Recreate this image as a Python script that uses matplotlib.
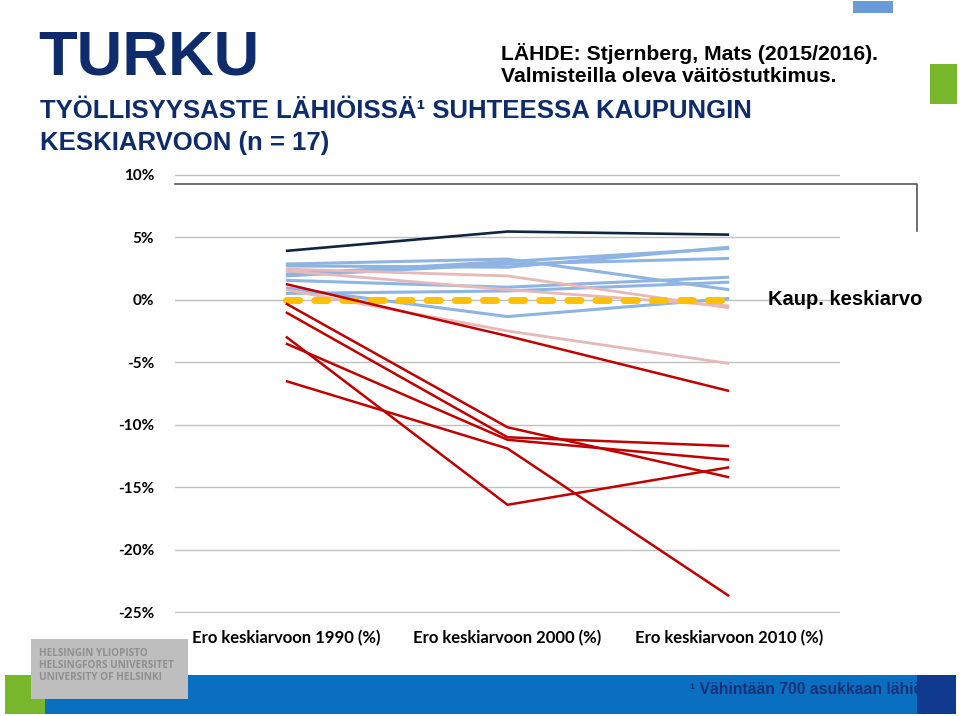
import matplotlib
matplotlib.use("Agg")
import matplotlib.pyplot as plt
from matplotlib.patches import Rectangle
from matplotlib.lines import Line2D

W, H = 960, 716

categories = ["Ero keskiarvoon 1990 (%)", "Ero keskiarvoon 2000 (%)", "Ero keskiarvoon 2010 (%)"]
yticks = [10, 5, 0, -5, -10, -15, -20, -25]

# erotus kaupungin keskiarvoon, %-yksikköä
black_line = [3.9, 5.45, 5.2]
blue_lines = [
    [2.85, 3.25, 0.8],
    [2.7, 2.6, 4.2],
    [2.05, 3.05, 4.1],
    [1.9, 2.85, 3.3],
    [1.55, 1.0, 1.8],
    [0.5, 0.7, 1.4],
    [0.95, -1.35, 0.1],
]
pink_lines = [
    [2.45, 1.9, -0.65],
    [2.3, 0.8, -0.5],
    [0.8, -2.5, -5.1],
]
red_lines = [
    [1.25, -2.9, -7.3],
    [-0.3, -10.2, -14.2],
    [-1.0, -11.0, -11.7],
    [-3.5, -11.2, -12.8],
    [-2.95, -16.4, -13.4],
    [-6.5, -11.9, -23.7],
]
mean_line = [0, 0, 0]


def fx(px):
    return px / W


def fy(py):
    return 1 - py / H


def rect(fig, x0, y0, x1, y1, color, z=1):
    fig.patches.append(Rectangle((fx(x0), fy(y1)), fx(x1 - x0), (y1 - y0) / H,
                                 transform=fig.transFigure, color=color, zorder=z, lw=0))


fig = plt.figure(figsize=(W / 100, H / 100), dpi=100)
ax = fig.add_axes([fx(175), fy(613), fx(840 - 175), (613 - 174) / H])

x = list(range(len(categories)))
for s in blue_lines:
    ax.plot(x, s, color="#8EB4E3", lw=2.2, zorder=2, solid_capstyle="butt")
for s in pink_lines:
    ax.plot(x, s, color="#E6B9B8", lw=2.0, zorder=2.5, solid_capstyle="butt")
ax.plot(x, black_line, color="#10253F", lw=1.9, zorder=3, solid_capstyle="butt")
ax.plot(x, mean_line, color="#FFC000", lw=5, zorder=3.5, dashes=(1.9, 2.15),
        dash_capstyle="round")
for s in red_lines:
    ax.plot(x, s, color="#C00000", lw=1.8, zorder=4, solid_capstyle="butt")

ax.set_xlim(-0.5, 2.5)
ax.set_ylim(-25.05, 10.05)
ax.set_yticks(yticks)
ax.set_yticklabels([f"{t}%" for t in yticks], fontfamily="Lato", fontweight="bold", fontsize=11)
ax.set_xticks(x)
ax.set_xticklabels(categories, fontfamily="Lato", fontweight="bold", fontsize=12)
ax.tick_params(length=0)
ax.tick_params(axis="y", pad=15)
ax.tick_params(axis="x", pad=12)
ax.grid(axis="y", color="#BFBFBF", lw=1)
ax.set_axisbelow(True)
for sp in ax.spines.values():
    sp.set_visible(False)

# laatikon reunaviiva
fig.lines.append(Line2D([fx(175), fx(917), fx(917)], [fy(184), fy(184), fy(231)],
                        transform=fig.transFigure, color="#555555", lw=1.2))

ax.text(0.892, 0, "Kaup. keskiarvo", transform=ax.get_yaxis_transform(),
        fontfamily="Liberation Sans", fontweight="bold", fontsize=14.5,
        va="center", ha="left", color="black")

# otsikot
navy = "#0E2C6B"
fig.text(fx(38), fy(58), "TURKU", fontfamily="Liberation Sans", fontweight="bold",
         fontsize=45.5, color=navy, va="center")
fig.text(fx(40), fy(111), "TYÖLLISYYSASTE LÄHIÖISSÄ¹ SUHTEESSA KAUPUNGIN",
         fontfamily="Liberation Sans", fontweight="bold", fontsize=18.5, color=navy, va="center")
fig.text(fx(40), fy(143), "KESKIARVOON (n = 17)",
         fontfamily="Liberation Sans", fontweight="bold", fontsize=18.5, color=navy, va="center")
fig.text(fx(501), fy(53), "LÄHDE: Stjernberg, Mats (2015/2016).",
         fontfamily="Liberation Sans", fontweight="bold", fontsize=15.2, color="black", va="center")
fig.text(fx(501), fy(76), "Valmisteilla oleva väitöstutkimus.",
         fontfamily="Liberation Sans", fontweight="bold", fontsize=15.2, color="black", va="center")

# koristeet
rect(fig, 853, 1, 893, 13, "#6A9BD6")
rect(fig, 930, 64, 957, 104, "#78B62B")
rect(fig, 5, 675, 45, 714, "#78B62B")
rect(fig, 45, 675, 917, 714, "#0A6FC1")
fig.text(fx(690), fy(690), "¹ Vähintään 700 asukkaan lähiöt", fontfamily="Liberation Sans",
         fontweight="bold", fontsize=11.3, color="#1A2F74", va="center", zorder=2)
rect(fig, 917, 675, 956, 714, "#0F3A8E", z=3)
rect(fig, 31, 639, 188, 699, "#BEBEBE", z=4)
for i, t in enumerate(["HELSINGIN YLIOPISTO", "HELSINGFORS UNIVERSITET", "UNIVERSITY OF HELSINKI"]):
    fig.text(fx(39), fy(654 + 12 * i), t, fontfamily="Open Sans", fontweight="bold",
             fontsize=7.2, color="#8F8F8F", va="center", zorder=5)

fig.savefig("out.png", dpi=100)
